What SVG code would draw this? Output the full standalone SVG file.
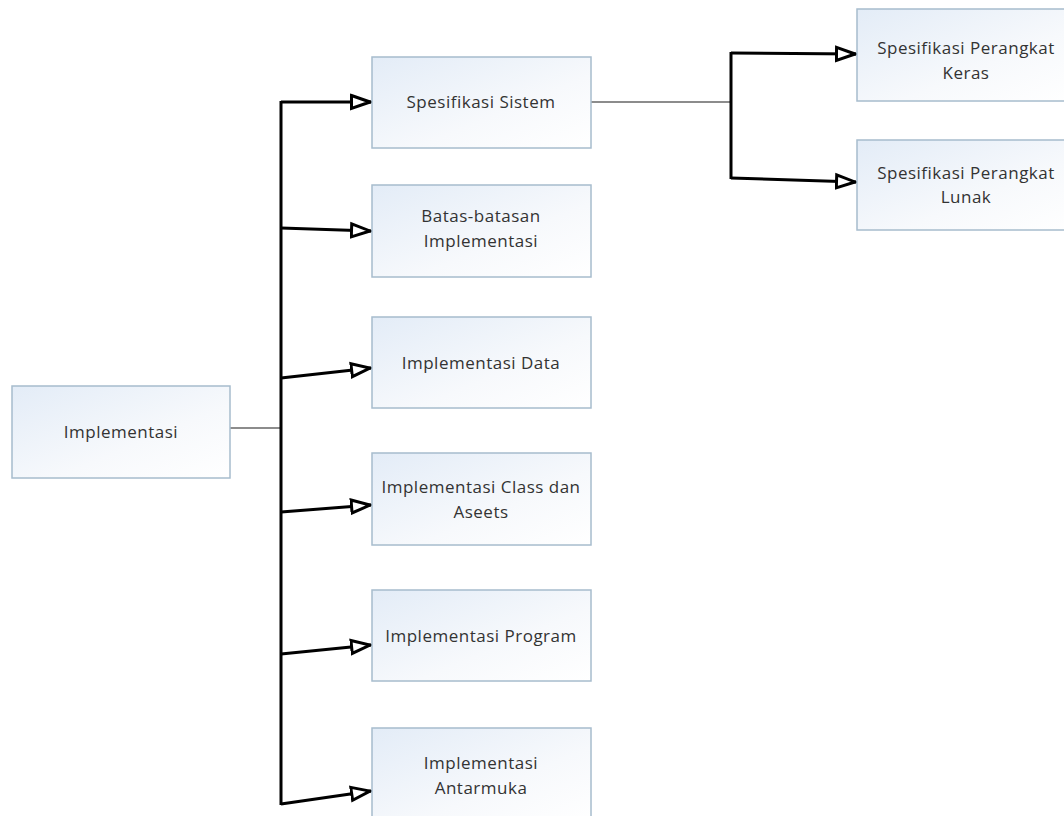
<svg xmlns="http://www.w3.org/2000/svg" width="1064" height="816" viewBox="0 0 1064 816">
<defs>
<linearGradient id="g" x1="0" y1="0" x2="1" y2="1">
<stop offset="0" stop-color="#e3ecf7"/>
<stop offset="0.6" stop-color="#f7f9fc"/>
<stop offset="1" stop-color="#ffffff"/>
</linearGradient>
<marker id="arr" viewBox="0 0 22 18" refX="21" refY="9" markerWidth="22" markerHeight="18" markerUnits="userSpaceOnUse" orient="auto">
<path d="M1.5,2.5 L20,9 L1.5,15.5 Z" fill="#fff" stroke="#000" stroke-width="3" stroke-linejoin="miter"/>
</marker>
<style>
.box{fill:url(#g);stroke:#a7bccd;stroke-width:1.5}
.t{font-family:"Open Sans","Liberation Sans",sans-serif;font-size:17px;fill:#333;text-anchor:middle;letter-spacing:0.5px}
.thin{stroke:#666;stroke-width:1.5;fill:none}
.thick{stroke:#000;stroke-width:3;fill:none}
</style>
</defs>
<rect width="1064" height="816" fill="#fff"/>
<g id="connectors">
<line class="thin" x1="230" y1="428" x2="281" y2="428"/>
<line class="thick" x1="281" y1="101" x2="281" y2="805"/>
<path class="thick" d="M281,102 L371,102" marker-end="url(#arr)"/>
<path class="thick" d="M281,228 L371,231" marker-end="url(#arr)"/>
<path class="thick" d="M281,378 L371,368" marker-end="url(#arr)"/>
<path class="thick" d="M281,512 L371,505" marker-end="url(#arr)"/>
<path class="thick" d="M281,654 L371,645" marker-end="url(#arr)"/>
<path class="thick" d="M281,804 L371,791" marker-end="url(#arr)"/>
<line class="thin" x1="591" y1="102" x2="731" y2="102"/>
<line class="thick" x1="731" y1="52" x2="731" y2="179"/>
<path class="thick" d="M731,53 L856,54" marker-end="url(#arr)"/>
<path class="thick" d="M731,178 L856,182" marker-end="url(#arr)"/>
</g>
<g id="n-implementasi">
<rect class="box" x="12" y="386" width="218" height="92"/>
<text class="t" x="121" y="438">Implementasi</text>
</g>
<g id="n-sistem">
<rect class="box" x="372" y="57" width="219" height="91"/>
<text class="t" x="481" y="108">Spesifikasi Sistem</text>
</g>
<g id="n-batas">
<rect class="box" x="372" y="185" width="219" height="92"/>
<text class="t" x="481" y="222">Batas-batasan</text>
<text class="t" x="481" y="247">Implementasi</text>
</g>
<g id="n-data">
<rect class="box" x="372" y="317" width="219" height="91"/>
<text class="t" x="481" y="369">Implementasi Data</text>
</g>
<g id="n-class">
<rect class="box" x="372" y="453" width="219" height="92"/>
<text class="t" x="481" y="493">Implementasi Class dan</text>
<text class="t" x="481" y="518">Aseets</text>
</g>
<g id="n-program">
<rect class="box" x="372" y="590" width="219" height="91"/>
<text class="t" x="481" y="642">Implementasi Program</text>
</g>
<g id="n-antarmuka">
<rect class="box" x="372" y="728" width="219" height="95"/>
<text class="t" x="481" y="769">Implementasi</text>
<text class="t" x="481" y="794">Antarmuka</text>
</g>
<g id="n-keras">
<rect class="box" x="857" y="9" width="219" height="92"/>
<text class="t" x="966" y="54">Spesifikasi Perangkat</text>
<text class="t" x="966" y="79">Keras</text>
</g>
<g id="n-lunak">
<rect class="box" x="857" y="140" width="219" height="90"/>
<text class="t" x="966" y="179">Spesifikasi Perangkat</text>
<text class="t" x="966" y="203">Lunak</text>
</g>
</svg>
